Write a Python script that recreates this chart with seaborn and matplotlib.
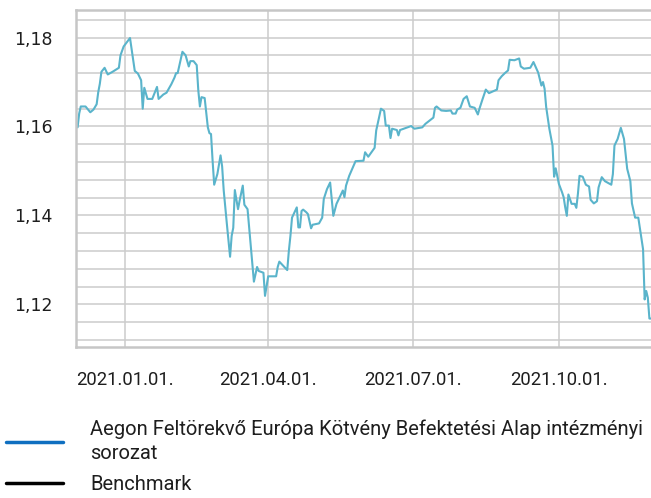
import matplotlib
matplotlib.use("Agg")
import matplotlib.pyplot as plt
import matplotlib.dates as mdates
from matplotlib.ticker import MultipleLocator, FuncFormatter
from matplotlib.lines import Line2D
import pandas as pd
import seaborn as sns

# Árfolyam (nettó eszközérték)
dates = [
    "2020-12-02", "2020-12-03", "2020-12-04", "2020-12-07", "2020-12-10", "2020-12-12",
    "2020-12-14", "2020-12-15", "2020-12-16", "2020-12-17", "2020-12-19", "2020-12-21",
    "2020-12-24", "2020-12-28", "2020-12-29", "2020-12-31",
    "2021-01-04", "2021-01-07", "2021-01-09", "2021-01-11", "2021-01-12", "2021-01-13",
    "2021-01-15", "2021-01-18", "2021-01-21", "2021-01-22", "2021-01-25", "2021-01-27",
    "2021-01-30",
    "2021-02-01", "2021-02-02", "2021-02-03", "2021-02-06", "2021-02-08", "2021-02-10",
    "2021-02-11", "2021-02-13", "2021-02-15", "2021-02-16", "2021-02-17", "2021-02-18",
    "2021-02-20", "2021-02-22", "2021-02-23", "2021-02-24", "2021-02-25", "2021-02-26",
    "2021-02-28",
    "2021-03-02", "2021-03-03", "2021-03-04", "2021-03-06", "2021-03-08", "2021-03-09",
    "2021-03-10", "2021-03-11", "2021-03-13", "2021-03-14", "2021-03-16", "2021-03-17",
    "2021-03-19", "2021-03-23", "2021-03-25", "2021-03-26", "2021-03-29", "2021-03-30",
    "2021-03-31",
    "2021-04-01", "2021-04-06", "2021-04-07", "2021-04-08", "2021-04-13", "2021-04-14",
    "2021-04-15", "2021-04-16", "2021-04-19", "2021-04-20", "2021-04-21", "2021-04-22",
    "2021-04-23", "2021-04-25", "2021-04-26", "2021-04-28", "2021-04-29",
    "2021-05-03", "2021-05-05", "2021-05-06", "2021-05-08", "2021-05-10", "2021-05-12",
    "2021-05-14", "2021-05-18", "2021-05-19", "2021-05-20", "2021-05-22", "2021-05-26",
    "2021-05-31",
    "2021-06-01", "2021-06-03", "2021-06-07", "2021-06-08", "2021-06-11", "2021-06-13",
    "2021-06-14", "2021-06-16", "2021-06-17", "2021-06-18", "2021-06-21", "2021-06-22",
    "2021-06-23", "2021-06-30",
    "2021-07-02", "2021-07-07", "2021-07-09", "2021-07-14", "2021-07-15", "2021-07-16",
    "2021-07-19", "2021-07-22", "2021-07-25", "2021-07-26", "2021-07-28", "2021-07-29",
    "2021-07-31",
    "2021-08-02", "2021-08-04", "2021-08-06", "2021-08-09", "2021-08-11", "2021-08-12",
    "2021-08-14", "2021-08-16", "2021-08-18", "2021-08-23", "2021-08-24", "2021-08-26",
    "2021-08-28", "2021-08-30", "2021-08-31",
    "2021-09-03", "2021-09-06", "2021-09-07", "2021-09-09", "2021-09-13", "2021-09-15",
    "2021-09-18", "2021-09-20", "2021-09-21", "2021-09-22", "2021-09-23", "2021-09-25",
    "2021-09-27", "2021-09-28", "2021-09-29",
    "2021-10-01", "2021-10-03", "2021-10-04", "2021-10-05", "2021-10-06", "2021-10-07",
    "2021-10-09", "2021-10-11", "2021-10-12", "2021-10-13", "2021-10-14", "2021-10-16",
    "2021-10-18", "2021-10-20", "2021-10-21", "2021-10-23", "2021-10-25", "2021-10-26",
    "2021-10-28", "2021-10-30",
    "2021-11-03", "2021-11-04", "2021-11-05", "2021-11-07", "2021-11-09", "2021-11-11",
    "2021-11-13", "2021-11-15", "2021-11-16", "2021-11-18", "2021-11-20", "2021-11-23",
    "2021-11-24", "2021-11-25", "2021-11-26", "2021-11-27", "2021-11-28",
]
values = [
    1.1598, 1.1629, 1.1645, 1.1645, 1.1632, 1.1638,
    1.1650, 1.1677, 1.1696, 1.1723, 1.1732, 1.1717,
    1.1723, 1.1732, 1.1760, 1.1780,
    1.1799, 1.1725, 1.1719, 1.1704, 1.1640, 1.1687,
    1.1662, 1.1662, 1.1689, 1.1662, 1.1672, 1.1676,
    1.1695,
    1.1710, 1.1720, 1.1720, 1.1768, 1.1760, 1.1735,
    1.1747, 1.1747, 1.1738, 1.1681, 1.1645, 1.1666,
    1.1664, 1.1598, 1.1585, 1.1583, 1.1523, 1.1469,
    1.1493,
    1.1535, 1.1510, 1.1456, 1.1380, 1.1307, 1.1354,
    1.1372, 1.1457, 1.1414, 1.1433, 1.1467, 1.1424,
    1.1414, 1.1251, 1.1284, 1.1275, 1.1271, 1.1219,
    1.1241,
    1.1263, 1.1263, 1.1284, 1.1296, 1.1277, 1.1320,
    1.1354, 1.1395, 1.1418, 1.1373, 1.1373, 1.1410,
    1.1413, 1.1407, 1.1403, 1.1371, 1.1379,
    1.1382, 1.1395, 1.1437, 1.1459, 1.1474, 1.1399,
    1.1426, 1.1456, 1.1441, 1.1467, 1.1489, 1.1522,
    1.1523,
    1.1542, 1.1532, 1.1552, 1.1591, 1.1640, 1.1635,
    1.1602, 1.1602, 1.1574, 1.1595, 1.1592, 1.1580,
    1.1592, 1.1601,
    1.1595, 1.1598, 1.1606, 1.1620, 1.1642, 1.1645,
    1.1636, 1.1635, 1.1636, 1.1629, 1.1629, 1.1638,
    1.1642,
    1.1662, 1.1668, 1.1645, 1.1642, 1.1627, 1.1640,
    1.1662, 1.1683, 1.1675, 1.1683, 1.1704, 1.1713,
    1.1720, 1.1726, 1.1750,
    1.1749, 1.1753, 1.1735, 1.1730, 1.1732, 1.1745,
    1.1721, 1.1692, 1.1700, 1.1685, 1.1644, 1.1595,
    1.1557, 1.1487, 1.1506,
    1.1471, 1.1452, 1.1441, 1.1418, 1.1399, 1.1447,
    1.1426, 1.1426, 1.1417, 1.1449, 1.1489, 1.1487,
    1.1469, 1.1465, 1.1435, 1.1427, 1.1432, 1.1463,
    1.1486, 1.1477,
    1.1469, 1.1493, 1.1557, 1.1572, 1.1597, 1.1572,
    1.1505, 1.1477, 1.1427, 1.1395, 1.1395, 1.1324,
    1.1211, 1.1230, 1.1215, 1.1168, 1.1168,
]

fund_label = "Aegon Feltörekvő Európa Kötvény Befektetési Alap intézményi\nsorozat"
bench_label = "Benchmark"

df = pd.DataFrame({"datum": pd.to_datetime(dates), "arfolyam": values})

sns.set_style("white")
plt.rcParams["font.family"] = ["DejaVu Sans"]

grid_col = "#cccccc"
text_col = "#1e1e1e"
narrow_font = ["Roboto", "DejaVu Sans"]

fig = plt.figure(figsize=(6.51, 4.98), dpi=100)
ax = fig.add_axes([76 / 651, 151 / 498, 575 / 651, 337 / 498])

sns.lineplot(data=df, x="datum", y="arfolyam", ax=ax, color="#5ab4cb", linewidth=1.5)

ax.set_xlim(pd.Timestamp("2020-12-01"), df["datum"].max())
ax.set_ylim(1.1104, 1.1862)
ax.set_xlabel("")
ax.set_ylabel("")

ax.xaxis.set_major_locator(mdates.MonthLocator(bymonth=[1, 4, 7, 10]))
ax.xaxis.set_major_formatter(mdates.DateFormatter("%Y.%m.%d."))
ax.yaxis.set_major_locator(MultipleLocator(0.02))
ax.yaxis.set_minor_locator(MultipleLocator(0.004))
ax.yaxis.set_major_formatter(FuncFormatter(lambda v, _: f"{v:.2f}".replace(".", ",")))

ax.grid(True, which="both", axis="y", color=grid_col, linewidth=1.1)
ax.grid(True, which="major", axis="x", color=grid_col, linewidth=1.1)
ax.set_axisbelow(True)

for side in ["left", "bottom", "top"]:
    ax.spines[side].set_visible(True)
    ax.spines[side].set_color("#c6c6c6")
    ax.spines[side].set_linewidth(1.8)
ax.spines["right"].set_visible(False)

ax.tick_params(axis="x", which="major", length=8, width=1.6, color="#c6c6c6",
               pad=9, labelsize=13.3, labelcolor=text_col)
ax.tick_params(axis="y", which="major", length=8, width=1.6, color="#c6c6c6",
               pad=9, labelsize=12.5, labelcolor=text_col)
ax.tick_params(axis="y", which="minor", length=2.5, width=1.6, color="#c6c6c6")

plt.setp(ax.get_xticklabels(), family=narrow_font)

handles = [Line2D([], [], color="#0f6fc0", linewidth=2.5),
           Line2D([], [], color="#000000", linewidth=2.5)]
leg = fig.legend(handles, [fund_label, bench_label], loc="upper left",
                 bbox_to_anchor=(0.009, 0.158), frameon=False, borderpad=0, borderaxespad=0,
                 handlelength=2.85, handletextpad=1.35, labelspacing=0.62,
                 prop={"family": narrow_font, "size": 14.5}, labelcolor=text_col)
for t in leg.get_texts():
    t.set_linespacing(1.33)

fig.savefig("out.png", dpi=100)
